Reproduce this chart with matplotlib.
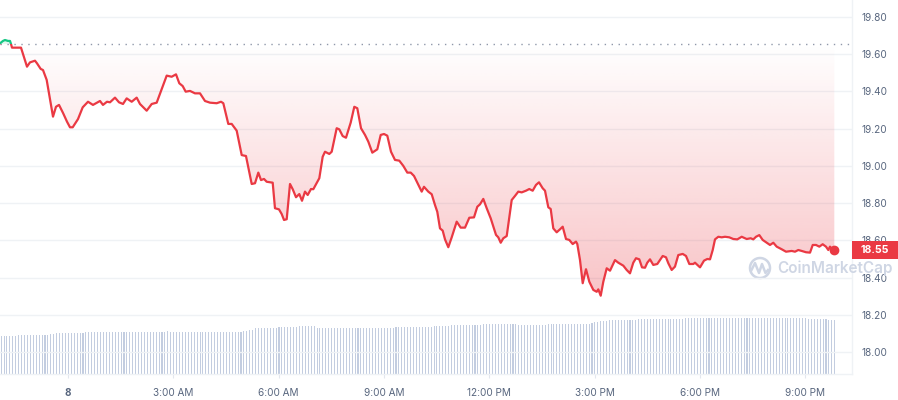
import numpy as np
import matplotlib
matplotlib.use('Agg')
import matplotlib.pyplot as plt
from matplotlib.patches import Rectangle, Circle
from matplotlib.lines import Line2D
import matplotlib.transforms as mtransforms

plt.rcParams['font.family'] = ['Inter', 'DejaVu Sans']

# ---------------- data ----------------
hours = [-1.937, -1.852, -1.795, -1.709, -1.652, -1.624, -1.595, -1.339, -1.168, -1.083,
         -0.940, -0.883, -0.778, -0.712, -0.607, -0.427, -0.342, -0.256, -0.142, -0.028,
         0.057, 0.134, 0.285, 0.419, 0.570, 0.712, 0.912, 0.997, 1.111, 1.197,
         1.339, 1.453, 1.567, 1.672, 1.815, 1.957, 2.051, 2.242, 2.385, 2.527,
         2.812, 2.954, 3.077, 3.171, 3.268, 3.353, 3.476, 3.618, 3.761, 3.903,
         4.046, 4.236, 4.359, 4.425, 4.567, 4.664, 4.806, 4.949, 5.071, 5.234,
         5.328, 5.422, 5.499, 5.584, 5.661, 5.832, 5.897, 6.011, 6.088, 6.154,
         6.231, 6.325, 6.402, 6.496, 6.590, 6.667, 6.752, 6.829, 6.923, 6.989,
         7.160, 7.256, 7.322, 7.444, 7.513, 7.655, 7.729, 7.826, 7.920, 8.054,
         8.157, 8.242, 8.348, 8.462, 8.556, 8.670, 8.812, 8.909, 9.003, 9.097,
         9.202, 9.316, 9.439, 9.553, 9.667, 9.764, 9.858, 9.952, 10.077, 10.142,
         10.265, 10.362, 10.456, 10.521, 10.598, 10.675, 10.741, 10.835, 10.932, 11.074,
         11.188, 11.311, 11.433, 11.567, 11.661, 11.738, 11.832, 11.929, 12.043, 12.194,
         12.259, 12.328, 12.402, 12.499, 12.641, 12.735, 12.829, 12.926, 13.048, 13.142,
         13.239, 13.333, 13.419, 13.524, 13.590, 13.684, 13.752, 13.826, 13.923, 14.017,
         14.094, 14.188, 14.282, 14.379, 14.473, 14.510, 14.587, 14.664, 14.758, 14.852,
         14.966, 15.063, 15.108, 15.177, 15.251, 15.348, 15.442, 15.584, 15.678, 15.821,
         15.917, 16.011, 16.105, 16.182, 16.276, 16.353, 16.439, 16.504, 16.581, 16.675,
         16.789, 16.943, 17.037, 17.103, 17.199, 17.293, 17.387, 17.513, 17.607, 17.701,
         17.815, 17.863, 18.006, 18.120, 18.214, 18.291, 18.368, 18.433, 18.527, 18.624,
         18.718, 18.840, 18.954, 19.068, 19.194, 19.336, 19.450, 19.524, 19.601, 19.695,
         19.792, 19.906, 20.000, 20.094, 20.191, 20.333, 20.456, 20.618, 20.712, 20.806,
         20.903, 21.026, 21.140, 21.217, 21.311, 21.405, 21.501, 21.595, 21.661, 21.709,
         21.786, 21.832]

price = [19.657, 19.670, 19.675, 19.670, 19.670, 19.654, 19.634, 19.634, 19.532, 19.555,
         19.564, 19.550, 19.520, 19.514, 19.461, 19.264, 19.317, 19.327, 19.284, 19.237,
         19.207, 19.207, 19.251, 19.314, 19.344, 19.327, 19.348, 19.327, 19.344, 19.341,
         19.366, 19.341, 19.332, 19.362, 19.344, 19.366, 19.332, 19.296, 19.332, 19.339,
         19.484, 19.478, 19.491, 19.443, 19.428, 19.398, 19.402, 19.389, 19.389, 19.348,
         19.339, 19.336, 19.344, 19.336, 19.225, 19.225, 19.189, 19.058, 19.053, 18.903,
         18.907, 18.964, 18.924, 18.930, 18.915, 18.910, 18.773, 18.767, 18.742, 18.710,
         18.714, 18.903, 18.875, 18.832, 18.849, 18.813, 18.862, 18.844, 18.876, 18.875,
         18.934, 19.049, 19.076, 19.064, 19.076, 19.202, 19.196, 19.160, 19.151, 19.232,
         19.317, 19.309, 19.202, 19.166, 19.130, 19.071, 19.089, 19.166, 19.171, 19.162,
         19.076, 19.032, 19.028, 19.000, 18.964, 18.964, 18.946, 18.910, 18.862, 18.888,
         18.862, 18.848, 18.790, 18.754, 18.665, 18.653, 18.606, 18.564, 18.617, 18.701,
         18.669, 18.669, 18.722, 18.724, 18.781, 18.794, 18.823, 18.773, 18.719, 18.630,
         18.617, 18.588, 18.612, 18.624, 18.817, 18.839, 18.862, 18.858, 18.867, 18.876,
         18.867, 18.898, 18.912, 18.880, 18.867, 18.778, 18.769, 18.665, 18.644, 18.660,
         18.674, 18.608, 18.603, 18.581, 18.594, 18.581, 18.495, 18.371, 18.446, 18.379,
         18.335, 18.325, 18.338, 18.304, 18.379, 18.451, 18.438, 18.495, 18.481, 18.465,
         18.442, 18.424, 18.481, 18.505, 18.499, 18.456, 18.454, 18.481, 18.499, 18.469,
         18.474, 18.517, 18.510, 18.478, 18.442, 18.460, 18.522, 18.528, 18.517, 18.474,
         18.474, 18.481, 18.456, 18.492, 18.501, 18.499, 18.549, 18.606, 18.620, 18.617,
         18.620, 18.617, 18.608, 18.606, 18.620, 18.608, 18.612, 18.606, 18.620, 18.629,
         18.603, 18.588, 18.576, 18.588, 18.567, 18.553, 18.540, 18.544, 18.540, 18.549,
         18.544, 18.537, 18.535, 18.576, 18.576, 18.567, 18.580, 18.567, 18.549, 18.567,
         18.549, 18.550]

# 24h volume (relative units), one bar per 5 minutes, one row per hour
volume = [
    38, 38, 38, 38, 38, 38, 39, 39, 39, 39, 39, 39,
    39, 39, 39, 39, 39, 40, 40, 40.7, 40.7, 40.7, 40.7, 40.7,
    40.7, 40.7, 40.7, 40.7, 40.7, 41.7, 41.7, 41.7, 41.7, 41.7, 41.7, 41.7,
    41.7, 41.7, 41.7, 41.7, 41.7, 41.7, 41.7, 41.7, 41.7, 41.7, 41.7, 41.7,
    41.7, 41.7, 41.7, 41.7, 41.7, 41.7, 41.7, 41.7, 41.7, 42.7, 41.7, 41.7,
    41.7, 41.7, 41.7, 41.7, 41.7, 41.7, 41.7, 41.7, 41.7, 41.7, 41.7, 41.7,
    41.7, 41.7, 41.7, 41.7, 41.7, 41.7, 41.7, 41.7, 41.7, 41.7, 41.7, 42.7,
    42.7, 43.7, 43.7, 45.7, 45.7, 45.7, 45.7, 45.7, 45.7, 45.7, 45.7, 46.7,
    46.7, 46.7, 46.7, 46.7, 46.7, 46.7, 47.7, 47.7, 47.7, 47.7, 47.7, 47.7,
    46, 46, 46, 46, 46, 46, 46, 46, 46, 46, 46, 46,
    46, 46, 46, 46, 46, 46, 46, 46, 46, 46, 46, 46,
    46, 46, 46, 47, 47, 47, 47, 47, 47, 47, 47, 47,
    47, 47, 47, 47, 48, 48, 48, 48, 48, 48, 49, 49,
    49, 49, 49, 49, 49, 49, 49, 49, 49, 49.7, 49.7, 49.7,
    49.7, 49.7, 49.7, 49.7, 49.7, 49.7, 49.7, 49.7, 49.7, 49.3, 49.3, 49.3,
    49.3, 49.3, 49.3, 49.3, 49.3, 49.3, 49.3, 49.7, 49.7, 49.7, 49.7, 49.7,
    49.7, 49.7, 49.7, 49.7, 49.7, 49.7, 49.7, 49.7, 49.7, 50.3, 51.3, 52.3,
    52.3, 53.3, 53.3, 53.3, 53.7, 53.7, 53.7, 53.7, 53.7, 53.7, 53.7, 53.7,
    53.7, 53.7, 54.7, 54.7, 54.7, 54.7, 54.7, 54.7, 54.7, 54.7, 54.7, 54.7,
    54.7, 54.7, 54.7, 54.7, 54.7, 54.7, 55.7, 55.7, 55.7, 55.7, 55.7, 55.7,
    55.7, 55.7, 55.7, 55.7, 55.7, 55.7, 55.7, 55.7, 55.7, 55.7, 55.7, 55.7,
    55.7, 55.7, 55.7, 55.7, 55.7, 55.7, 55.7, 55.7, 55.7, 55.7, 55.7, 55.7,
    55.7, 55.7, 55.7, 55.7, 55.7, 55.7, 55.7, 55.7, 55.7, 55.7, 55.7, 55.7,
    55, 55, 55, 55, 55, 55, 55, 54, 54, 54,
]
vol_start_hour = -1.92

baseline = 19.654
last_price = 18.55
xtick_pos = [0, 3, 6, 9, 12, 15, 18, 21]
xtick_labels = ['8', '3:00 AM', '6:00 AM', '9:00 AM', '12:00 PM', '3:00 PM', '6:00 PM', '9:00 PM']
ytick_vals = [18.00, 18.20, 18.40, 18.60, 18.80, 19.00, 19.20, 19.40, 19.60, 19.80]

# ---------------- styling ----------------
RED = '#ea3943'
GREEN = '#16c784'
GREY_TXT = '#58667e'
GRID = '#eff2f5'

W, H = 898, 400
fig = plt.figure(figsize=(W / 100, H / 100), dpi=100)
pos = [0, 26 / H, 852 / W, 374 / H]

XMIN, XMAX = -1.937, 22.336
YMIN, YMAX = 17.8842, 19.8895

# volume axes (behind)
ax_v = fig.add_axes(pos)
ax_v.set_zorder(0)
vol_x = vol_start_hour + np.arange(len(volume)) / 12.0
ax_v.bar(vol_x, volume, width=0.03, color='#c3cde0', linewidth=0, align='edge')
ax_v.set_xlim(XMIN, XMAX)
ax_v.set_ylim(0, 374)
ax_v.axis('off')

# price axes
ax = fig.add_axes(pos)
ax.set_zorder(1)
ax.patch.set_visible(False)
ax.set_xlim(XMIN, XMAX)
ax.set_ylim(YMIN, YMAX)

hx = np.array(hours)
py = np.array(price)

# gradient fill below baseline
fb = ax.fill_between(hx, np.minimum(py, baseline), baseline, facecolor='none', edgecolor='none')
ny = 300
alphas = np.linspace(0.0, 0.30, ny)[:, None]  # top (baseline) -> bottom
rgba = np.zeros((ny, 2, 4))
rgba[..., 0] = 234 / 255
rgba[..., 1] = 57 / 255
rgba[..., 2] = 67 / 255
rgba[..., 3] = np.repeat(alphas, 2, axis=1)
im = ax.imshow(rgba, extent=(XMIN, hx[-1], 18.30, baseline), aspect='auto', origin='upper',
               interpolation='bilinear', zorder=1)
im.set_clip_path(fb.get_paths()[0], transform=ax.transData)
# below 18.30 keep the max alpha
im2 = ax.imshow(rgba[-1:, :, :], extent=(XMIN, hx[-1], YMIN, 18.30), aspect='auto', zorder=1)
im2.set_clip_path(fb.get_paths()[0], transform=ax.transData)

# green fill above baseline
fg = ax.fill_between(hx, np.maximum(py, baseline), baseline, facecolor=GREEN, alpha=0.12,
                     edgecolor='none', zorder=1)

ax.set_xlim(XMIN, XMAX)
ax.set_ylim(YMIN, YMAX)

# price line split at baseline
red_clip = Rectangle((XMIN, YMIN), XMAX - XMIN, baseline - YMIN, transform=ax.transData)
green_clip = Rectangle((XMIN, baseline), XMAX - XMIN, YMAX - baseline, transform=ax.transData)
l1, = ax.plot(hx, py, color=RED, lw=1.6, zorder=3, solid_joinstyle='round')
l1.set_clip_path(red_clip)
l2, = ax.plot(hx, py, color=GREEN, lw=1.6, zorder=3, solid_joinstyle='round')
l2.set_clip_path(green_clip)

# dotted reference line
ax.axhline(baseline, color='#8f98aa', lw=1.0, ls=(0, (1, 4)), zorder=2)

# end dot
ax.plot([hx[-1]], [py[-1]], 'o', color=RED, ms=6, zorder=4)

# axes styling
ax.yaxis.tick_right()
ax.set_yticks(ytick_vals)
ax.set_yticklabels([f'{v:.2f}' for v in ytick_vals])
ax.tick_params(axis='y', length=0, pad=7, labelsize=7.2, labelcolor=GREY_TXT)
ax.grid(axis='y', color=GRID, lw=1.0, zorder=0)
ax.set_axisbelow(True)
ax.set_xticks(xtick_pos)
ax.set_xticklabels(xtick_labels)
ax.tick_params(axis='x', length=3, color='#e3e7ee', pad=7, labelsize=7.2, labelcolor=GREY_TXT)
ax.get_xticklabels()[0].set_fontweight('bold')
for s in ['top', 'left']:
    ax.spines[s].set_visible(False)
for s in ['right', 'bottom']:
    ax.spines[s].set_color(GRID)
    ax.spines[s].set_linewidth(1.0)

# price tag
trans = mtransforms.blended_transform_factory(ax.transAxes, ax.transData)
tag_h = 18 / 186.5
ax.add_patch(Rectangle((1.0, last_price - tag_h / 2 - 0.002), 46 / 852, tag_h, transform=trans,
                       facecolor=RED, edgecolor='none', clip_on=False, zorder=10))
ax.text(1.0 + 23 / 852, last_price - 0.002, f'{last_price:.2f}', transform=trans, ha='center',
        va='center', color='white', fontsize=7.6, fontweight='bold', zorder=11, clip_on=False)

# watermark
WM = '#cfd6e4'
idt = mtransforms.IdentityTransform()
fig.add_artist(Circle((760, H - 268), 10, transform=idt, fill=False, edgecolor=WM, lw=1.8))
fig.add_artist(Line2D([751.5, 755, 759, 762, 765.5, 768],
                      [H - 270, H - 263, H - 273, H - 264, H - 273, H - 270],
                      transform=idt, color=WM, lw=1.8, solid_joinstyle='round'))
fig.text(777 / W, 1 - 268 / H, 'CoinMarketCap', ha='left', va='center', fontsize=11,
         color=WM, fontweight='semibold')

fig.savefig('out.png', dpi=100)
